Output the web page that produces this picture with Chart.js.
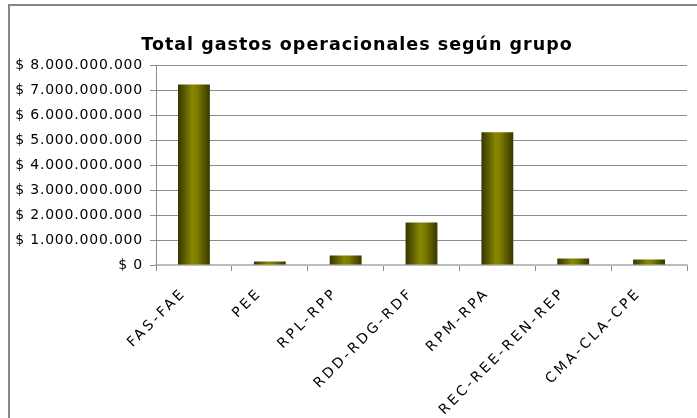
<!DOCTYPE html>
<html>
<head>
<meta charset="utf-8">
<script src="https://cdn.jsdelivr.net/npm/chart.js@4"></script>
<style>
  html, body { margin: 0; padding: 0; background: #fff; }
  #wrap { position: relative; width: 697px; height: 418px; }
</style>
</head>
<body>
<div id="wrap"><canvas id="chart"></canvas></div>
<script>
const categories = ['FAS-FAE', 'PEE', 'RPL-RPP', 'RDD-RDG-RDF', 'RPM-RPA', 'REC-REE-REN-REP', 'CMA-CLA-CPE'];
const gastos = [7220000000, 140000000, 380000000, 1700000000, 5310000000, 260000000, 220000000];
const yTicks = [0, 1000000000, 2000000000, 3000000000, 4000000000, 5000000000, 6000000000, 7000000000, 8000000000];

const BAR_PCT = 0.42;

// outer frame (only left and top edges show) + Excel-like wide text spacing
const framePlugin = {
    id: 'frame',
    afterLayout(chart) {
        // title sits a bit right of canvas centre in the original
        if (chart.titleBlock) chart.titleBlock.left = 27;
    },
    beforeDraw(chart) {
        const ctx = chart.ctx;
        ctx.letterSpacing = '1px';
        ctx.save();
        ctx.strokeStyle = '#868686';
        ctx.lineWidth = 2;
        ctx.beginPath();
        ctx.moveTo(9, chart.height);
        ctx.lineTo(9, 5);
        ctx.lineTo(chart.width, 5);
        ctx.stroke();
        ctx.restore();
    }
};

// give a scale's tick labels their own letter spacing (and a small nudge)
function spaced(px, dx = 0) {
    return (scale) => {
        if (scale._spaced) return;
        scale._spaced = true;
        const orig = scale.drawLabels.bind(scale);
        scale.drawLabels = (area) => {
            const c = scale.ctx;
            const prev = c.letterSpacing;
            c.save();
            c.translate(dx, 0);
            c.letterSpacing = px;
            orig(area);
            c.restore();
            c.letterSpacing = prev;
        };
    };
}

const barGradient = (context) => {
    const chart = context.chart;
    const xs = chart.scales.x;
    if (!xs || context.dataIndex === undefined) return '#808000';
    const cx = xs.getPixelForValue(context.dataIndex);
    const w = xs.width / categories.length * BAR_PCT;
    if (!isFinite(cx) || !isFinite(w) || w <= 0) return '#808000';
    const g = chart.ctx.createLinearGradient(cx - w / 2, 0, cx + w / 2, 0);
    g.addColorStop(0, '#363600');
    g.addColorStop(0.45, '#868600');
    g.addColorStop(0.6, '#7c7c00');
    g.addColorStop(1, '#363600');
    return g;
};

new Chart(document.getElementById('chart'), {
    type: 'bar',
    data: {
        labels: categories,
        datasets: [{
            label: 'Total gastos',
            data: gastos,
            backgroundColor: barGradient,
            borderWidth: 0,
            categoryPercentage: 1,
            barPercentage: BAR_PCT,
        }],
    },
    options: {
        responsive: true,
        maintainAspectRatio: false,
        animation: false,
        layout: { padding: { left: 0, right: 10, top: 0, bottom: 0 } },
        plugins: {
            legend: { display: false },
            tooltip: { enabled: false },
            title: {
                display: true,
                text: 'Total gastos operacionales según grupo',
                color: '#000',
                font: { family: 'DejaVu Sans', size: 17.5, weight: 'bold' },
                padding: { top: 35, bottom: 9 },
            },
        },
        scales: {
            x: {
                grid: {
                    offset: true,
                    drawOnChartArea: false,
                    color: '#8a8a8a',
                    tickLength: 6,
                },
                border: { color: '#bdbdbd', width: 2 },
                ticks: {
                    color: '#000',
                    font: { family: 'DejaVu Sans', size: 14 },
                    minRotation: 45,
                    maxRotation: 45,
                    autoSkip: false,
                    padding: 14,
                },
                afterFit(scale) { scale.height = 153; },
                afterUpdate: spaced('3px', -10),
            },
            y: {
                min: 0,
                max: 8000000000,
                afterBuildTicks(scale) { scale.ticks = yTicks.map(v => ({ value: v })); },
                grid: { color: '#8c8c8c', tickLength: 6 },
                border: { color: '#8a8a8a' },
                ticks: {
                    color: '#000',
                    font: { family: 'DejaVu Sans', size: 14 },
                    padding: 7,
                    callback: v => '$ ' + v.toLocaleString('de-DE'),
                },
                afterFit(scale) { scale.width = 156; },
                afterUpdate: spaced('0.8px'),
            },
        },
    },
    plugins: [framePlugin],
});
</script>
</body>
</html>
